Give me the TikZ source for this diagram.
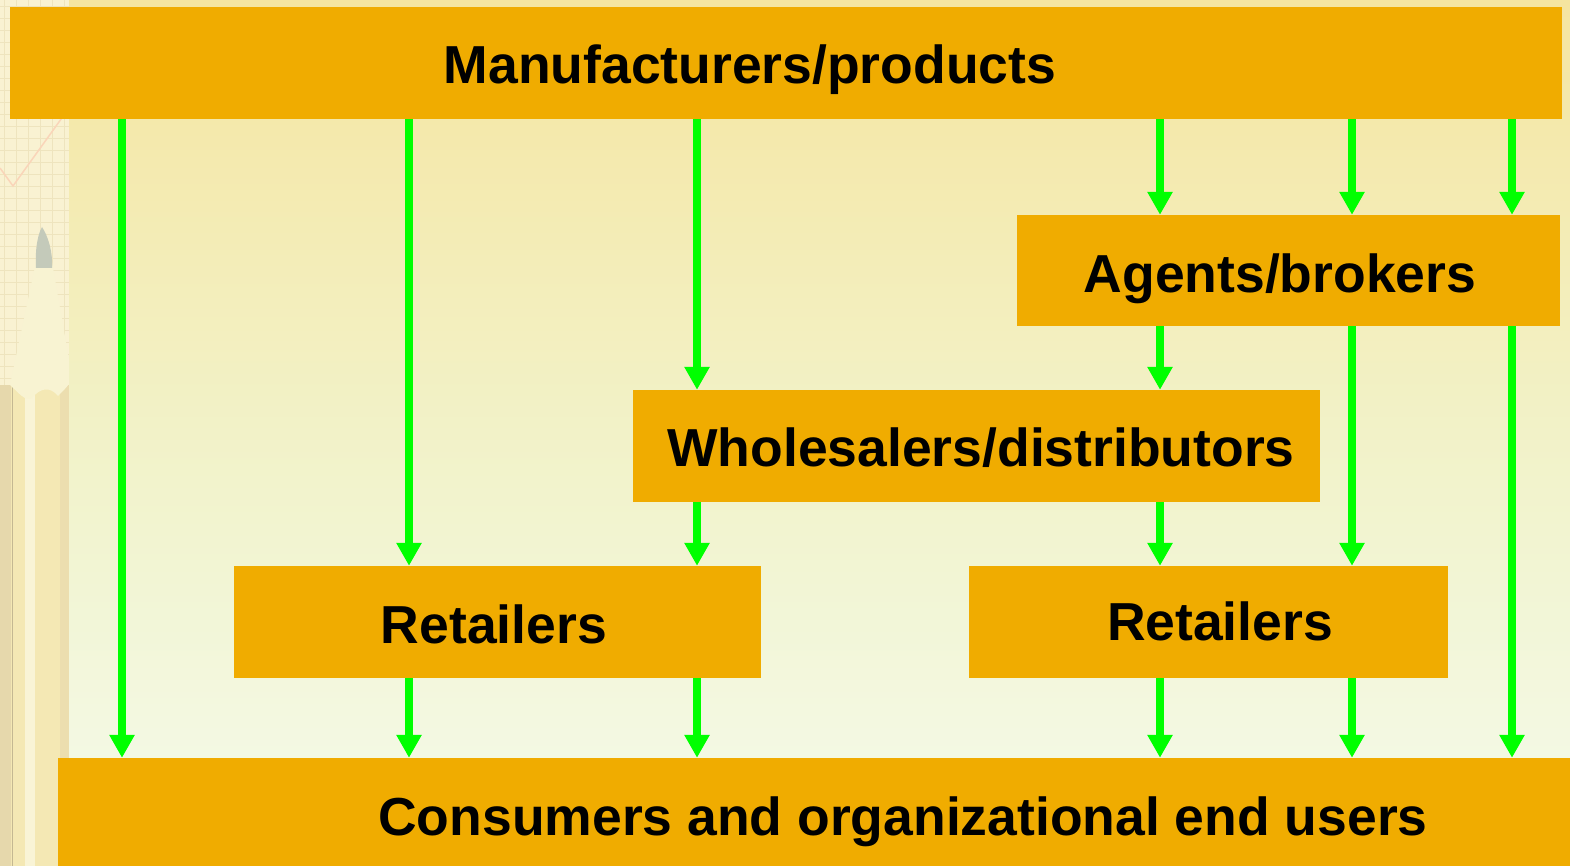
\documentclass[tikz,border=0pt]{standalone}
\usepackage{fontspec}
\setmainfont{Liberation Sans}
\usetikzlibrary{arrows.meta}

\definecolor{boxfill}{RGB}{240,172,0}
\definecolor{flowgreen}{RGB}{0,255,0}
\definecolor{bgtop}{RGB}{245,229,160}
\definecolor{bgmid}{RGB}{242,242,200}
\definecolor{bgbot}{RGB}{243,251,236}
\definecolor{paper}{RGB}{249,242,210}
\definecolor{gridline}{RGB}{238,228,190}
\definecolor{pencilwood}{RGB}{248,243,210}
\definecolor{pencilbody}{RGB}{244,232,180}
\definecolor{pencildark}{RGB}{230,216,172}
\definecolor{graphite}{RGB}{196,202,186}

\tikzset{
  box/.style={fill=boxfill, draw=none, inner sep=0pt},
  label/.style={font=\fontsize{53.5}{64}\selectfont\bfseries, inner sep=0pt, anchor=base},
  flow/.style={draw=flowgreen, line width=8pt, -{Triangle[width=24pt,length=23pt]}},
}

\begin{document}
\begin{tikzpicture}[x=1pt,y=-1pt]
  % page background
  \useasboundingbox (0,0) rectangle (1570,866);
  \shade[top color=bgtop, bottom color=bgbot, middle color=bgmid] (0,0) rectangle (1570,866);

  % decorative strip on the left: squared paper and a pencil
  \fill[paper] (0,0) rectangle (69,866);
  \foreach \g in {6,18,...,860} {
    \draw[gridline, line width=0.6pt] (0,\g) -- (69,\g);
  }
  \foreach \g in {4,16,...,69} {
    \draw[gridline, line width=0.6pt] (\g,0) -- (\g,866);
  }
  \draw[red!12!paper, line width=1.5pt] (0,168) -- (13,186) -- (64,115);
  % pencil body
  \fill[pencilbody] (0,385) rectangle (69,866);
  \fill[pencildark] (0,385) rectangle (11,866);
  \draw[pencildark!85!black, line width=1pt] (12,385) -- (12,866);
  \fill[pencilwood!90!white] (25,385) rectangle (35,866);
  \fill[pencildark!60!pencilbody] (60,385) rectangle (69,866);
  % sharpened wood cone with scalloped edge
  \fill[pencilwood] (36,262) -- (10,385)
     .. controls (18,392) and (25,402) .. (32,398)
     .. controls (40,388) and (50,386) .. (58,396)
     .. controls (62,392) and (66,388) .. (69,384)
     -- (69,360) -- (52,262) -- cycle;
  % graphite tip
  \fill[graphite] (42,227) .. controls (48,236) and (53,252) .. (52,268)
     -- (36,268) .. controls (35,252) and (37,236) .. (42,227) -- cycle;

  % boxes
  \node[box, minimum width=1552pt, minimum height=112pt] (manu) at (786,63) {};
  \node[box, minimum width=543pt, minimum height=111pt] (agent) at (1288.5,270.5) {};
  \node[box, minimum width=687pt, minimum height=112pt] (whole) at (976.5,446) {};
  \node[box, minimum width=527pt, minimum height=112pt] (retl) at (497.5,622) {};
  \node[box, minimum width=479pt, minimum height=112pt] (retr) at (1208.5,622) {};
  \node[box, minimum width=1512pt, minimum height=108pt] (cons) at (814,812) {};

  % box texts, placed on their baselines
  \node[label] (tmanu) at (750,84) {Manufacturers/products};
  \node[label] (tagent) at (1280,293) {Agents/brokers};
  \node[label] (twhole) at (981,466) {Wholesalers/distributors};
  \node[label] (tretl) at (494,643) {Retailers};
  \node[label] (tretr) at (1220,640) {Retailers};
  \node[label] (tcons) at (903,835) {Consumers and organizational end users};

  % channel columns
  \coordinate (c1) at (122,0);
  \coordinate (c2) at (409,0);
  \coordinate (c3) at (697,0);
  \coordinate (c4) at (1160,0);
  \coordinate (c5) at (1352,0);
  \coordinate (c6) at (1512,0);

  % direct channel
  \draw[flow] (manu.south -| c1) -- (cons.north -| c1);
  % via retailers
  \draw[flow] (manu.south -| c2) -- (retl.north -| c2);
  \draw[flow] (retl.south -| c2) -- (cons.north -| c2);
  % via wholesalers and retailers
  \draw[flow] (manu.south -| c3) -- (whole.north -| c3);
  \draw[flow] (whole.south -| c3) -- (retl.north -| c3);
  \draw[flow] (retl.south -| c3) -- (cons.north -| c3);
  % via agents, wholesalers and retailers
  \draw[flow] (manu.south -| c4) -- (agent.north -| c4);
  \draw[flow] (agent.south -| c4) -- (whole.north -| c4);
  \draw[flow] (whole.south -| c4) -- (retr.north -| c4);
  \draw[flow] (retr.south -| c4) -- (cons.north -| c4);
  % via agents and retailers
  \draw[flow] (manu.south -| c5) -- (agent.north -| c5);
  \draw[flow] (agent.south -| c5) -- (retr.north -| c5);
  \draw[flow] (retr.south -| c5) -- (cons.north -| c5);
  % via agents only
  \draw[flow] (manu.south -| c6) -- (agent.north -| c6);
  \draw[flow] (agent.south -| c6) -- (cons.north -| c6);
\end{tikzpicture}
\end{document}
